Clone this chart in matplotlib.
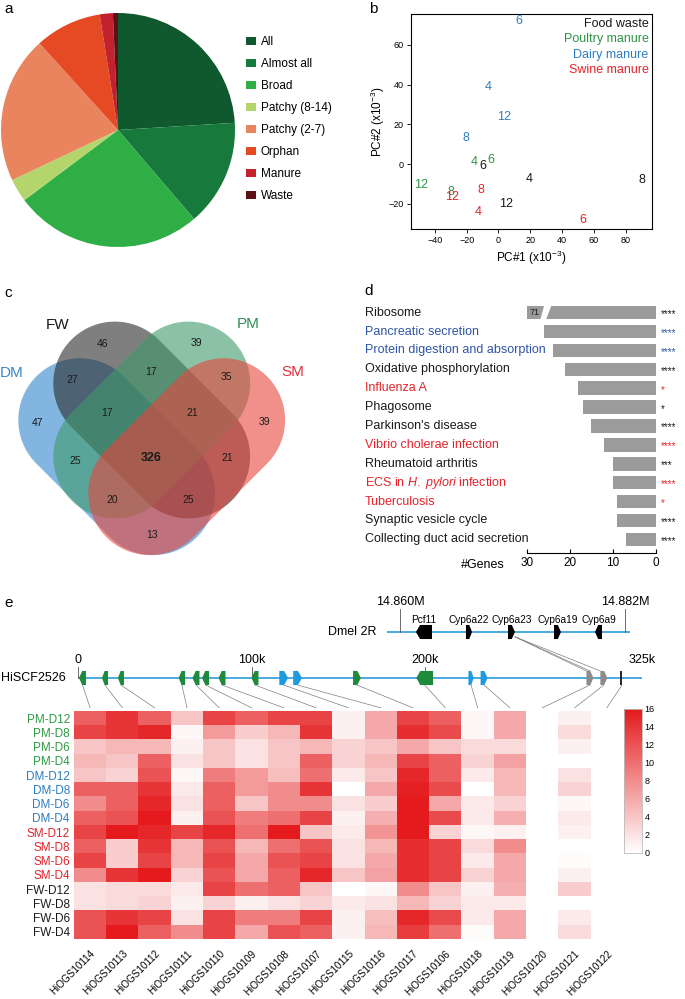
import numpy as np
import matplotlib
matplotlib.use("Agg")
import matplotlib.pyplot as plt
from matplotlib.colors import LinearSegmentedColormap
from matplotlib.patches import Polygon, ConnectionPatch
from matplotlib.transforms import blended_transform_factory, Affine2D, ScaledTranslation

plt.rcParams['font.family'] = ['Liberation Sans', 'DejaVu Sans']
plt.rcParams['mathtext.fontset'] = 'custom'
plt.rcParams['mathtext.rm'] = 'Liberation Sans'
plt.rcParams['mathtext.it'] = 'Liberation Sans:italic'

# ---------------- data ----------------
# a: gene family distribution
pie_labels = ["All", "Almost all", "Broad", "Patchy (8-14)", "Patchy (2-7)", "Orphan", "Manure", "Waste"]
pie_share = [24.0, 14.7, 26.0, 3.2, 20.3, 9.2, 1.8, 0.7]
pie_colors = ["#10582E", "#17793B", "#2EAE45", "#B4D56C", "#E9845E", "#E64A25", "#C1222B", "#5C1015"]

# b: PCA (x10^-3), labels are sampling days
pc_groups = ["Food waste", "Poultry manure", "Dairy manure", "Swine manure"]
pc_colors = ["#1A1A1A", "#2E9444", "#2F7DC1", "#E3242B"]
fw_days, fw_pc1, fw_pc2 = ["4", "6", "8", "12"], [19, -10, 90, 5], [-7.3, -0.8, -7.8, -20]
pm_days, pm_pc1, pm_pc2 = ["4", "6", "8", "12"], [-15.3, -5, -30, -48.4], [1, 1.9, -14.2, -10.4]
dm_days, dm_pc1, dm_pc2 = ["4", "6", "8", "12"], [-6.7, 12.8, -20.7, 3.4], [39, 72.2, 13.4, 24]
sm_days, sm_pc1, sm_pc2 = ["4", "6", "8", "12"], [-12.8, 53.3, -11, -28.9], [-24, -27.9, -13.2, -16.5]

# c: Venn counts
venn_sets = ["DM", "FW", "PM", "SM"]
venn_counts = [47, 46, 39, 39, 27, 17, 35, 17, 21, 25, 326, 21, 20, 25, 13]

# d: KEGG pathways
path_names = ["Ribosome", "Pancreatic secretion", "Protein digestion and absorption",
              "Oxidative phosphorylation", "Influenza A", "Phagosome", "Parkinson's disease",
              "Vibrio cholerae infection", "Rheumatoid arthritis",
              r"ECS in $\mathit{H.\ pylori}$ infection", "Tuberculosis",
              "Synaptic vesicle cycle", "Collecting duct acid secretion"]
path_genes = [71, 26, 24, 21, 18, 17, 15, 12, 10, 10, 9, 9, 7]
path_stars = ["****", "****", "****", "****", "*", "*", "****", "****", "***", "****", "*", "****", "****"]
path_kind = ["k", "b", "b", "k", "r", "k", "k", "r", "k", "r", "r", "k", "k"]

# e: synteny + expression
scaf_start = [0.6, 13.8, 23, 58, 66, 71.5, 81, 100, 116, 124, 158.5, 195, 225, 232, 293, 301, 313]
scaf_end = [4.6, 17.3, 26.5, 61.7, 70, 75.5, 85, 104, 121, 129, 163, 204.6, 228, 236, 297, 305, 314]
scaf_strand = [-1, -1, -1, -1, -1, -1, -1, -1, 1, 1, 1, -1, 1, 1, 1, 1, 0]
scaf_kind = ["g"] * 8 + ["b", "b", "g", "g", "b", "b", "x", "x", "k"]
scaf_ticks = [0, 100, 200, 325]
scaf_ticklabels = ["0", "100k", "200k", "325k"]

dmel_names = ["Pcf11", "Cyp6a22", "Cyp6a23", "Cyp6a19", "Cyp6a9"]
dmel_start = [14.86156, 14.86645, 14.87056, 14.87506, 14.87907]
dmel_end = [14.86313, 14.86704, 14.87124, 14.87574, 14.87975]
dmel_strand = [-1, 1, 1, 1, -1]
dmel_ticks = [14.860, 14.882]
dmel_ticklabels = ["14.860M", "14.882M"]

heat_rows = ["PM-D12", "PM-D8", "PM-D6", "PM-D4", "DM-D12", "DM-D8", "DM-D6", "DM-D4",
             "SM-D12", "SM-D8", "SM-D6", "SM-D4", "FW-D12", "FW-D8", "FW-D6", "FW-D4"]
heat_cols = ["HiOGS10114", "HiOGS10113", "HiOGS10112", "HiOGS10111", "HiOGS10110", "HiOGS10109",
             "HiOGS10108", "HiOGS10107", "HiOGS10115", "HiOGS10116", "HiOGS10117", "HiOGS10106",
             "HiOGS10118", "HiOGS10119", "HiOGS10120", "HiOGS10121", "HiOGS10122"]
heat_vals = np.array([
    [11, 14, 11, 4, 13, 11, 13, 13, 1, 6, 13, 11, 0.5, 6, 0, 1, 0],
    [13, 14, 15, 0.5, 7, 3.5, 5, 14, 1, 6, 14.5, 12.5, 0.5, 6, 0, 2.5, 0],
    [4, 5, 5, 1, 4, 2, 4, 5, 3, 4, 6, 4, 2.5, 2.5, 0, 1, 0],
    [5, 4, 11, 2, 4, 2, 4, 11, 3, 5, 13, 11, 3, 6.5, 0, 0, 0],
    [4, 3, 12, 0.5, 9, 7, 4.5, 10, 1.5, 4, 15, 11, 1.5, 5, 0, 2, 0],
    [11, 11, 14, 1.5, 11, 7, 8, 14, 0, 6, 15.5, 12.5, 0, 5, 0, 3, 0],
    [8, 11, 15, 2, 11, 4, 8, 8, 2, 3.5, 16, 6, 1.5, 3, 0, 0.5, 0],
    [11, 12, 16, 1, 12, 9, 10, 13, 1, 5.5, 16, 12.5, 1.5, 5.5, 0, 1.5, 0],
    [13, 16, 15, 13, 15, 10, 16, 4, 1.5, 7.5, 16, 3, 0.5, 1, 0, 1, 0],
    [11, 3.5, 14, 5, 12, 5, 10, 12, 2, 5, 14.5, 13, 2.5, 8, 0, 0, 0],
    [13, 3.5, 13, 5, 13, 6, 12, 13, 2, 6, 14.5, 13, 1.5, 6, 0, 0.3, 0],
    [8, 14, 16, 3, 12, 6, 11, 15, 4, 6.5, 14.5, 13, 3, 6, 0, 1, 0],
    [2, 2.5, 2.5, 1.5, 13, 10, 11, 4, 0, 0.5, 8, 4, 1, 5.5, 0, 3.5, 0],
    [2, 2.5, 3, 1, 3, 1, 2, 3, 1.5, 2, 5, 3, 1.5, 1.5, 0, 0, 0],
    [12, 14, 13, 2, 13, 9, 9, 13, 1, 4.5, 15, 12.5, 1.5, 6, 0, 1.5, 0],
    [12, 16, 11, 8, 13, 6, 12, 11, 1, 5, 13.5, 10, 0.3, 6, 0, 2.5, 0],
])

# ---------------- layout helpers ----------------
W, H = 685, 999
fig = plt.figure(figsize=(W / 100, H / 100), dpi=100)


def box(x0, y0, x1, y1):
    return [x0 / W, 1 - y1 / H, (x1 - x0) / W, (y1 - y0) / H]


def ftext(x, y, s, **kw):
    return fig.text(x / W, 1 - y / H, s, **kw)


for lab, (x, y) in zip("abcde", [(4, 9), (369, 9), (4, 293), (364, 291), (4, 603)]):
    ftext(x, y, lab, fontsize=11, va="center", ha="left")

GREEN, BLUE, RED = "#2E9A44", "#2F7DC1", "#E3242B"

# ---------------- a: pie ----------------
ax_a = fig.add_axes(box(1, 13, 235, 247))
wedges, _ = ax_a.pie(pie_share, colors=pie_colors, startangle=90, counterclock=False, radius=1)
ax_a.set_xlim(-1, 1)
ax_a.set_ylim(-1, 1)
ax_a.legend(wedges, pie_labels, loc="upper left", bbox_to_anchor=(246 / W, 1 - 36 / H),
            bbox_transform=fig.transFigure, frameon=False, fontsize=8.5, handlelength=0.85,
            handleheight=0.7, handletextpad=0.4, labelspacing=0.85, borderpad=0, borderaxespad=0)

# ---------------- b: PCA ----------------
ax_b = fig.add_axes(box(411, 14, 652, 229))
for days, xs, ys, col in [(fw_days, fw_pc1, fw_pc2, pc_colors[0]), (pm_days, pm_pc1, pm_pc2, pc_colors[1]),
                          (dm_days, dm_pc1, dm_pc2, pc_colors[2]), (sm_days, sm_pc1, sm_pc2, pc_colors[3])]:
    for d, x, y in zip(days, xs, ys):
        ax_b.text(x, y, d, color=col, fontsize=9, ha="center", va="center")
ax_b.set_xlim(-55, 96.5)
ax_b.set_ylim(-32.6, 75.6)
ax_b.set_xticks([-40, -20, 0, 20, 40, 60, 80])
ax_b.set_yticks([-20, 0, 20, 40, 60])
ax_b.tick_params(labelsize=6.5, length=3, width=0.6, pad=2)
for sp in ax_b.spines.values():
    sp.set_linewidth(0.8)
ax_b.set_xlabel(r"PC#1 (x10$^{-3}$)", fontsize=8.5, labelpad=3)
ax_b.set_ylabel(r"PC#2 (x10$^{-3}$)", fontsize=8.5, labelpad=1)
for i, (g, c) in enumerate(zip(pc_groups, pc_colors)):
    ax_b.text(0.985, 0.955 - i * 0.072, g, color=c, fontsize=9, ha="right", va="center",
              transform=ax_b.transAxes)

# ---------------- c: Venn ----------------
ax_c = fig.add_axes(box(0, 290, 340, 600))
ax_c.set_xlim(0, 340)
ax_c.set_ylim(600, 290)
ax_c.axis("off")
R, half = 61.7, 51.9
venn_centers = [(116.7, 456.7), (151.7, 420), (151.7, 420), (186.7, 456.7)]
venn_angles = [45, 45, -45, -45]
venn_fill = ["#3F8FD2", "#2A2A2A", "#3E9A6A", "#E8453C"]
venn_alpha = [0.65, 0.6, 0.6, 0.6]
th1 = np.linspace(np.pi / 2, 3 * np.pi / 2, 60)
th2 = np.linspace(-np.pi / 2, np.pi / 2, 60)
stadium = np.vstack([np.column_stack([-half + R * np.cos(th1), R * np.sin(th1)]),
                     np.column_stack([half + R * np.cos(th2), R * np.sin(th2)])])
for (cx, cy), ang, fc, al in zip(venn_centers, venn_angles, venn_fill, venn_alpha):
    p = Polygon(stadium, closed=True, facecolor=fc, edgecolor="none", alpha=al)
    p.set_transform(Affine2D().rotate_deg(ang).translate(cx, cy) + ax_c.transData)
    ax_c.add_patch(p)
venn_pos = [(37.3, 422.7), (102.7, 344), (196.7, 342.7), (264.3, 421.7), (72.7, 380), (151, 371.7),
            (226.7, 377.3), (106.7, 412.7), (192.7, 413.3), (75, 460.7), (151.7, 458.3), (227.7, 458.3),
            (112.7, 500), (188.3, 500), (151.7, 535)]
for n, (x, y) in zip(venn_counts, venn_pos):
    big = n == max(venn_counts)
    ax_c.text(x, y, str(n), fontsize=9 if big else 7.5, fontweight="bold" if big else "normal",
              ha="center", va="center", color="#1A1A1A")
for name, (x, y), col in zip(venn_sets, [(12, 373), (58, 325), (248, 324), (293, 372)],
                             ["#3A86C8", "#1A1A1A", "#2E8B57", "#E0303F"]):
    ax_c.text(x, y, name, fontsize=11, ha="center", va="center", color=col)

# ---------------- d: pathways ----------------
ax_d = fig.add_axes(box(526.7, 303.2, 656, 548.8))
kind_col = {"k": "#1A1A1A", "b": "#2E56A6", "r": RED}
ypos = np.arange(len(path_names))
ax_d.barh(ypos, np.minimum(path_genes, 30), height=0.72, color="#9B9B9B")
ax_d.add_patch(Polygon([(24.2, -0.42), (25.9, -0.42), (26.9, 0.42), (25.6, 0.42)],
                       closed=True, facecolor="white", edgecolor="none"))
ax_d.text(29.4, 0, str(path_genes[0]), fontsize=6.5, ha="left", va="center", color="#1A1A1A")
ax_d.set_xlim(30, 0)
ax_d.set_ylim(len(path_names) - 0.5, -0.5)
for s in ["top", "left", "right"]:
    ax_d.spines[s].set_visible(False)
ax_d.spines["bottom"].set_position(("outward", 3.2))
ax_d.spines["bottom"].set_bounds(0, 30)
ax_d.spines["bottom"].set_linewidth(0.8)
ax_d.set_yticks([])
ax_d.set_xticks([30, 20, 10, 0])
ax_d.tick_params(axis="x", direction="in", length=3, width=0.8, labelsize=8.5, pad=3)
tr = blended_transform_factory(fig.transFigure, ax_d.transData)
for y, name, st, k in zip(ypos, path_names, path_stars, path_kind):
    ax_d.text(365 / W, y, name, transform=tr, fontsize=9, ha="left", va="center", color=kind_col[k])
    ax_d.text(661 / W, y + 0.08, st, transform=tr, fontsize=7, ha="left", va="center",
              color=kind_col[k], clip_on=False)
ftext(505, 565, "#Genes", fontsize=9, ha="right", va="center")

# ---------------- e: heatmap ----------------
cmap = LinearSegmentedColormap.from_list("wr", ["#FFFFFF", "#E41A1C"])
ax_h = fig.add_axes(box(74, 711, 623, 939))
im = ax_h.imshow(heat_vals, cmap=cmap, vmin=0, vmax=16, aspect="auto", interpolation="nearest")
for s in ax_h.spines.values():
    s.set_visible(False)
ax_h.set_yticks(range(len(heat_rows)))
ax_h.set_yticklabels(heat_rows, fontsize=8.5)
row_col = {"PM": GREEN, "DM": BLUE, "SM": RED, "FW": "#1A1A1A"}
for lab in ax_h.get_yticklabels():
    lab.set_color(row_col[lab.get_text()[:2]])
ax_h.set_xticks(range(len(heat_cols)))
ax_h.set_xticklabels(heat_cols, fontsize=7.1, rotation=45, ha="right", rotation_mode="anchor")
for lab in ax_h.get_xticklabels():
    lab.set_transform(lab.get_transform() + ScaledTranslation(5 / 100, 0, fig.dpi_scale_trans))
ax_h.tick_params(length=0, pad=3)
ax_h.tick_params(axis="x", pad=7)

cax = fig.add_axes(box(624, 709, 642, 853))
cb = fig.colorbar(im, cax=cax, ticks=range(0, 17, 2))
cb.outline.set_edgecolor("#BBBBBB")
cb.outline.set_linewidth(0.6)
cax.tick_params(length=0, pad=2, labelsize=6.5)

# gene tracks
gcol = {"g": "#1E8A3C", "b": "#1E9BE0", "x": "#8C8C8C", "k": "#000000"}


def gene(ax, s, e, strand, color, h=0.44):
    if strand == 0:
        ax.plot([s, s], [-h, h], color=color, lw=1.2, solid_capstyle="butt")
        return
    a = min(0.45 * (e - s), 2.2 if ax is ax_s else 0.0004)
    if strand < 0:
        pts = [(s, 0), (s + a, h), (e, h), (e, -h), (s + a, -h)]
    else:
        pts = [(s, -h), (e - a, -h), (e, 0), (e - a, h), (s, h)]
    ax.add_patch(Polygon(pts, closed=True, facecolor=color, edgecolor="none", zorder=3))


ax_s = fig.add_axes(box(78, 646, 642, 710))
ax_s.set_xlim(0, 325)
ax_s.set_ylim(-2, 2)
ax_s.axis("off")
ax_s.axhline(0, color="#3AA4DE", lw=1.3, zorder=1)
for s, e, st, k in zip(scaf_start, scaf_end, scaf_strand, scaf_kind):
    gene(ax_s, s, e, st, gcol[k])
for t, tl in zip(scaf_ticks, scaf_ticklabels):
    ax_s.plot([t, t], [0, 0.69], color="#555555", lw=0.6)
    ax_s.text(t, 0.72, tl, fontsize=9, ha="center", va="bottom")
ftext(66, 678, "HiSCF2526", fontsize=9, ha="right", va="center")

ax_m = fig.add_axes(box(387, 600, 630, 664))
ax_m.set_xlim(14.85873, 14.88249)
ax_m.set_ylim(-2, 2)
ax_m.axis("off")
ax_m.axhline(0, color="#3AA4DE", lw=1.3, zorder=1)
for s, e, st, nm in zip(dmel_start, dmel_end, dmel_strand, dmel_names):
    gene(ax_m, s, e, st, "#000000")
    ax_m.text((s + e) / 2, 0.75, nm, fontsize=7.3, ha="center", va="center")
for t, tl in zip(dmel_ticks, dmel_ticklabels):
    ax_m.plot([t, t], [0, 1.45], color="#555555", lw=0.6)
    ax_m.text(t, 1.5, tl, fontsize=9, ha="center", va="bottom")
ftext(376, 632, "Dmel 2R", fontsize=9, ha="right", va="center")

# connectors scaffold genes -> heatmap columns
for j, (s, e) in enumerate(zip(scaf_start, scaf_end)):
    con = ConnectionPatch(xyA=((s + e) / 2, -0.44), coordsA=ax_s.transData,
                          xyB=(j, -0.72), coordsB=ax_h.transData, color="#7F7F7F", lw=0.5)
    fig.add_artist(con)
# Dmel Cyp6a23 -> HiSCF2526 grey genes
k = dmel_names.index("Cyp6a23")
for tx in [scaf_start[14], (scaf_start[14] + scaf_end[14]) / 2, scaf_start[15]]:
    con = ConnectionPatch(xyA=(dmel_end[k], -0.3), coordsA=ax_m.transData,
                          xyB=(tx, 0.44), coordsB=ax_s.transData, color="#7F7F7F", lw=0.5)
    fig.add_artist(con)

fig.savefig("out.png", dpi=100)
